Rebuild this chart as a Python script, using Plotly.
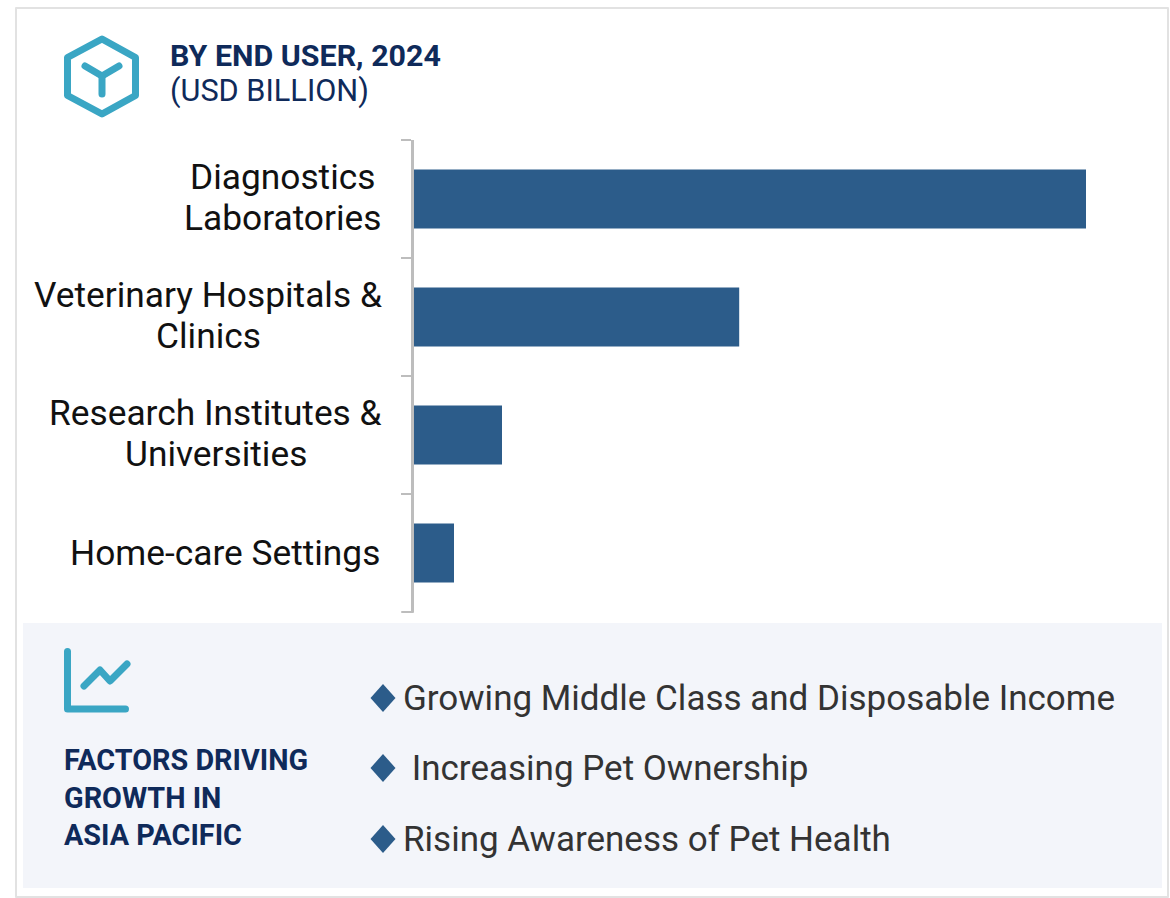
import plotly.graph_objects as go

W, H = 1170, 898

categories = ["Diagnostics Laboratories", "Veterinary Hospitals & Clinics",
              "Research Institutes & Universities", "Home-care Settings"]
category_lines = [["Diagnostics", "Laboratories"], ["Veterinary Hospitals &", "Clinics"],
                  ["Research Institutes &", "Universities"], ["Home-care Settings"]]
label_centers = [282.5, 208, 215.5, 224.5]
values = [16.8, 8.13, 2.2, 1.0]
factors = ["Growing Middle Class and Disposable Income", "\u00a0Increasing Pet Ownership",
           "Rising Awareness of Pet Health"]
factor_y = [698, 768, 839]
footer_lines = ["FACTORS DRIVING", "GROWTH IN", "ASIA PACIFIC"]
footer_y = [760, 797.5, 835]

NAVY, TEAL, BAR, GREY = "#0F2A5A", "#3AA6C4", "#2C5C8A", "#BDBDBD"
def X(p): return p / W
def Y(p): return 1 - p / H
def path(pts, close=False):
    s = "M" + " L".join(f"{X(a):.5f},{Y(b):.5f}" for a, b in pts)
    return s + (" Z" if close else "")

fig = go.Figure(go.Bar(y=categories, x=values, orientation="h",
                       marker=dict(color=BAR, line=dict(width=0)),
                       width=0.5, hoverinfo="skip"))

def pshape(**k):
    return dict(xref="paper", yref="paper", layer="below", **k)

clear = "rgba(0,0,0,0)"
shapes = [
    pshape(type="rect", x0=X(16), x1=X(1168), y0=Y(8), y1=Y(897), line=dict(color="#E2E2E2", width=2), fillcolor="white"),
    pshape(type="rect", x0=X(23), x1=X(1162), y0=Y(623), y1=Y(888), line=dict(width=0), fillcolor="#F3F5FA"),
    pshape(type="path", path=path([(102, 39), (135.5, 57.5), (135.5, 95.5), (102, 114), (67.5, 95.5), (67.5, 57.5)], True),
           line=dict(color=TEAL, width=7), fillcolor=clear),
    pshape(type="path", path=path([(85, 66), (102, 76), (119, 66)]), line=dict(color=TEAL, width=7), fillcolor=clear),
    pshape(type="path", path=path([(102, 76), (102, 94)]), line=dict(color=TEAL, width=7)),
    pshape(type="path", path=path([(67.5, 651.5), (67.5, 709), (125.5, 709)]), line=dict(color=TEAL, width=7), fillcolor=clear),
    pshape(type="path", path=path([(84, 686), (100, 670), (110, 681), (127, 664)]), line=dict(color=TEAL, width=7), fillcolor=clear),
    pshape(type="line", x0=X(402), x1=X(413), y0=Y(612), y1=Y(612), line=dict(color=GREY, width=2)),
]
for fy in factor_y:
    shapes.append(pshape(type="path", path=path([(383, fy - 14), (395.5, fy), (383, fy + 14), (370.5, fy)], True),
                         line=dict(width=0), fillcolor=BAR))

def txt(x, y, t, size, color, bold=False, anchor="left"):
    return dict(xref="paper", yref="paper", x=X(x - 2), y=Y(y), text=f"<b>{t}</b>" if bold else t,
                showarrow=False, xanchor=anchor, yanchor="middle",
                font=dict(family="Roboto", size=size, color=color))

annots = [txt(170, 55, "BY END USER, 2024", 30.4, NAVY, True), txt(170, 91.5, "(USD BILLION)", 30.7, NAVY)]
for c, lines, cx in zip(categories, category_lines, label_centers):
    for i, l in enumerate(lines):
        annots.append(dict(xref="x", yref="y", x=0, y=c, xshift=cx - 414,
                           yshift=(len(lines) - 1) * 20.5 - i * 41 + (1.5 if len(lines) > 1 else 0.5),
                           text=l, showarrow=False, xanchor="center", yanchor="middle",
                           font=dict(family="Roboto", size=35.3, color="#111111")))
annots += [txt(64, fy, t, 28.8, NAVY, True) for t, fy in zip(footer_lines, footer_y)]
annots += [txt(403, fy, t, 35, "#333333") for t, fy in zip(factors, factor_y)]

fig.update_layout(
    width=W, height=H, margin=dict(l=0, r=0, t=0, b=0), autosize=False,
    paper_bgcolor="white", plot_bgcolor="rgba(0,0,0,0)", showlegend=False,
    shapes=shapes, annotations=annots,
    xaxis=dict(domain=[X(414), X(1114)], range=[0, 17.5], visible=False),
    yaxis=dict(domain=[Y(612), Y(140)], autorange="reversed", type="category",
               categoryorder="array", categoryarray=categories,
               showline=True, linecolor=GREY, linewidth=2.5, ticks="outside", tickson="boundaries",
               ticklen=10, tickcolor=GREY, tickwidth=2, showticklabels=False, showgrid=False, zeroline=False),
)
fig.write_html("out.html", config=dict(displayModeBar=False),
               post_script="document.body.style.margin='0';document.documentElement.style.overflow='hidden';"
                           "var s=document.createElement('style');"
                           "s.textContent='.shapelayer path{stroke-linecap:round;stroke-linejoin:round}';"
                           "document.head.appendChild(s);")
